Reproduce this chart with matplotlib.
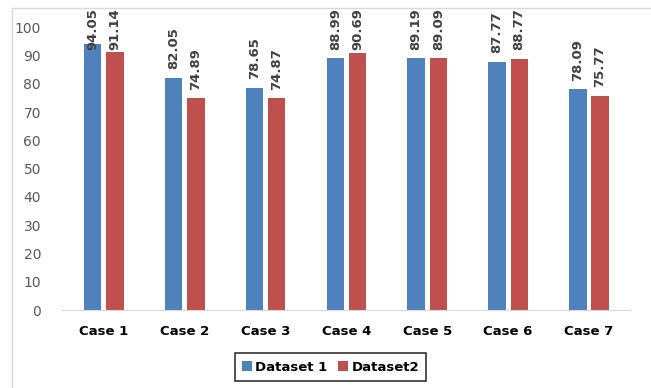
import numpy as np
import matplotlib.pyplot as plt
from matplotlib.patches import Rectangle

cases = ['Case 1', 'Case 2', 'Case 3', 'Case 4', 'Case 5', 'Case 6', 'Case 7']
dataset1 = [94.05, 82.05, 78.65, 88.99, 89.19, 87.77, 78.09]
dataset2 = [91.14, 74.89, 74.87, 90.69, 89.09, 88.77, 75.77]
yticks = [0, 10, 20, 30, 40, 50, 60, 70, 80, 90, 100]

blue = '#4f81bd'
red = '#c0504d'

fig = plt.figure(figsize=(6.51, 3.88), dpi=100)
fig.patches.append(Rectangle((0.018, -0.01), 0.985, 0.99, transform=fig.transFigure,
                             fill=False, edgecolor='#d9d9d9', lw=1))
ax = fig.add_axes([0.095, 0.201, 0.873, 0.729])

x = np.arange(len(cases))
w = 0.215
gap = 0.03
b1 = ax.bar(x - w / 2 - gap, dataset1, w, color=blue, label='Dataset 1')
b2 = ax.bar(x + w / 2 + gap, dataset2, w, color=red, label='Dataset2')

# labels sit a bit above each bar, pushed down near the top like Excel does
for bars, vals in ((b1, dataset1), (b2, dataset2)):
    for r, v in zip(bars, vals):
        ax.text(r.get_x() + r.get_width() / 2, min(v + 3, 92), f'{v:.2f}', rotation=90,
                ha='center', va='bottom', fontsize=9.5, fontweight='bold',
                color='#404040', clip_on=False)

ax.set_ylim(0, 100)
ax.set_xlim(-0.52, 6.51)
ax.set_yticks(yticks)
ax.set_xticks(x)
ax.set_xticklabels(cases, fontsize=9.5, fontweight='bold')
ax.tick_params(axis='y', labelsize=10, labelcolor='#595959', length=0, pad=15)
ax.tick_params(axis='x', length=0, pad=11)
for s in ['top', 'right', 'left']:
    ax.spines[s].set_visible(False)
ax.spines['bottom'].set_color('#d9d9d9')

leg = fig.legend(loc='center', bbox_to_anchor=(0.508, 0.054), ncol=2,
                 prop={'weight': 'bold', 'size': 9.5}, frameon=True, fancybox=False,
                 handlelength=0.7, handleheight=0.7, handletextpad=0.3,
                 columnspacing=0.8, borderpad=0.55)
leg.get_frame().set_edgecolor('black')
leg.get_frame().set_linewidth(1.2)

fig.savefig('out.png', dpi=100)
